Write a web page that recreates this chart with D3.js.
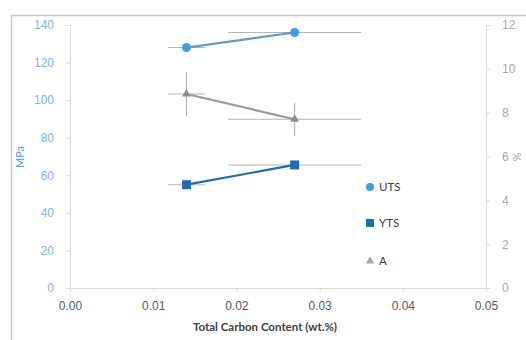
<!DOCTYPE html>
<html><head><meta charset="utf-8">
<script src="https://cdn.jsdelivr.net/npm/d3@7"></script>
<style>body{margin:0;background:#fff;}svg{display:block;font-family:Lato,"Open Sans",sans-serif;}</style>
</head><body><div id="chart"></div>
<script>
const carbon = [0.014, 0.027];
const carbonErr = [0.0022, 0.008];
const uts = [128, 136];
const utsErr = [0, 0];
const yts = [55, 65.5];
const ytsErr = [0, 0];
const elong = [8.85, 7.7];
const elongErr = [1.0, 0.75];
const xTicks = [0, 0.01, 0.02, 0.03, 0.04, 0.05];
const leftTicks = [0, 20, 40, 60, 80, 100, 120, 140];
const rightTicks = [0, 2, 4, 6, 8, 10, 12];
const legendLabels = ["UTS", "YTS", "A"];

const W = 526, H = 340;
const svg = d3.select("#chart").append("svg").attr("width", W).attr("height", H);
svg.append("rect").attr("x", 11.5).attr("y", 15.5).attr("width", 530).attr("height", 340)
  .attr("fill", "#fff").attr("stroke", "#c8c8c8").attr("stroke-width", 1.5);

const x = d3.scaleLinear().domain([0, 0.05]).range([70, 486]);
const yL = d3.scaleLinear().domain([0, 140]).range([288, 25]);
const yR = d3.scaleLinear().domain([0, 12]).range([288, 25]);

const axisColor = "#d9d9d9";
const gx = svg.append("g").attr("transform", "translate(0,288)")
  .call(d3.axisBottom(x).tickValues(xTicks).tickFormat(d3.format(".2f")).tickSize(4).tickPadding(9));
gx.selectAll("text").attr("fill", "#595959").attr("font-size", 12);
const gl = svg.append("g").attr("transform", "translate(70,0)")
  .call(d3.axisLeft(yL).tickValues(leftTicks).tickSize(4).tickPadding(12));
gl.selectAll("text").attr("fill", "#7fb2e0").attr("font-size", 12);
const gr = svg.append("g").attr("transform", "translate(486,0)")
  .call(d3.axisRight(yR).tickValues(rightTicks).tickSize(4).tickPadding(12));
gr.selectAll("text").attr("fill", "#a6a6a6").attr("font-size", 12);
[gx, gl, gr].forEach(g => {
  g.select(".domain").attr("stroke", axisColor);
  g.selectAll(".tick line").attr("stroke", axisColor);
});

svg.append("text").attr("transform", "translate(24,157) rotate(-90)").attr("text-anchor", "middle")
  .attr("fill", "#5b9bd5").attr("font-size", 11).text("MPa");
svg.append("text").attr("transform", "translate(513,157) rotate(90)").attr("text-anchor", "middle")
  .attr("fill", "#a6a6a6").attr("font-size", 11).text("%");
svg.append("text").attr("x", 265).attr("y", 331).attr("text-anchor", "middle")
  .attr("fill", "#404040").attr("font-size", 11.5).attr("font-weight", "bold").text("Total Carbon Content (wt.%)");

const errColor = "#b4b4b4";
function errBars(vals, verr, yScale) {
  const g = svg.append("g").attr("stroke", errColor).attr("stroke-width", 1.1);
  vals.forEach((v, i) => {
    const cx = x(carbon[i]), cy = yScale(v);
    g.append("line").attr("x1", x(carbon[i] - carbonErr[i])).attr("x2", x(carbon[i] + carbonErr[i])).attr("y1", cy).attr("y2", cy);
    if (verr[i] > 0) {
      g.append("line").attr("x1", cx).attr("x2", cx).attr("y1", yScale(v - verr[i])).attr("y2", yScale(v + verr[i]));
    }
  });
}
errBars(uts, utsErr, yL);
errBars(elong, elongErr, yR);
errBars(yts, ytsErr, yL);

const line = (ys) => d3.line().x((d, i) => x(carbon[i])).y(d => ys(d));
const cUTS = "#3fa0e0", cUTSline = "#5b9bd5", cYTS = "#1f6cb0", cA = "#9a9a9a";
svg.append("path").datum(uts).attr("d", line(yL)).attr("fill", "none").attr("stroke", cUTSline).attr("stroke-width", 2.2);
svg.append("path").datum(elong).attr("d", line(yR)).attr("fill", "none").attr("stroke", cA).attr("stroke-width", 2.2);
svg.append("path").datum(yts).attr("d", line(yL)).attr("fill", "none").attr("stroke", cYTS).attr("stroke-width", 2.2);

svg.selectAll(".uts").data(uts).join("circle").attr("cx", (d, i) => x(carbon[i])).attr("cy", d => yL(d))
  .attr("r", 4.5).attr("fill", cUTS);
svg.selectAll(".yts").data(yts).join("rect").attr("x", (d, i) => x(carbon[i]) - 4.5).attr("y", d => yL(d) - 4.5)
  .attr("width", 9).attr("height", 9).attr("fill", cYTS);
const tri = d3.symbol().type(d3.symbolTriangle).size(32);
svg.selectAll(".a").data(elong).join("path").attr("d", tri)
  .attr("transform", (d, i) => `translate(${x(carbon[i])},${yR(d)})`).attr("fill", "#8c8c8c");

const legY = [187, 223, 261];
const lg = svg.append("g");
lg.append("circle").attr("cx", 370).attr("cy", legY[0]).attr("r", 4).attr("fill", cUTS);
lg.append("rect").attr("x", 366).attr("y", legY[1] - 4).attr("width", 8).attr("height", 8).attr("fill", cYTS);
lg.append("path").attr("d", d3.symbol().type(d3.symbolTriangle).size(30)).attr("transform", `translate(370,${legY[2]})`).attr("fill", "#a6a6a6");
legendLabels.forEach((t, i) => {
  lg.append("text").attr("x", 379).attr("y", legY[i] + 4).attr("fill", "#404040").attr("font-size", 11.5).text(t);
});
</script></body></html>
